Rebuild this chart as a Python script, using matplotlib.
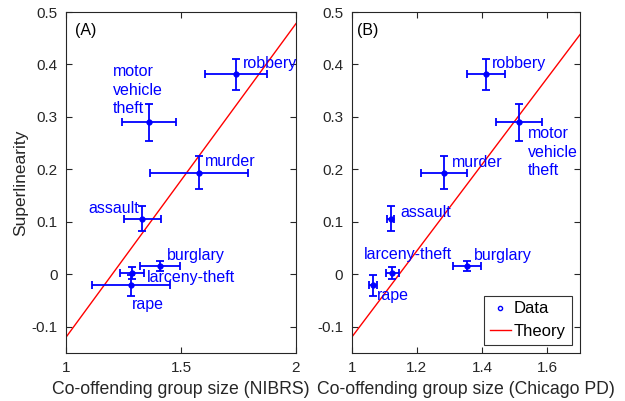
import matplotlib.pyplot as plt
from matplotlib.lines import Line2D
import numpy as np

plt.rcParams['font.family'] = ['Liberation Sans', 'DejaVu Sans']

crimes = ['robbery', 'motor vehicle theft', 'murder', 'assault',
          'burglary', 'larceny-theft', 'rape']

# superlinearity (same for both panels)
beta = [0.381, 0.290, 0.194, 0.106, 0.016, 0.002, -0.021]
beta_err = [0.030, 0.035, 0.032, 0.024, 0.010, 0.011, 0.020]

# group size, NIBRS
nibrs_x = [1.739, 1.361, 1.580, 1.332, 1.409, 1.287, 1.284]
nibrs_xerr = [0.135, 0.116, 0.213, 0.080, 0.088, 0.053, 0.170]

# group size, Chicago PD
chi_x = [1.412, 1.513, 1.284, 1.119, 1.353, 1.125, 1.066]
chi_xerr = [0.058, 0.070, 0.071, 0.011, 0.043, 0.019, 0.013]

# theory line endpoints
nibrs_theory_x = [1.0, 2.0]
nibrs_theory_y = [-0.120, 0.478]
chi_theory_x = [1.0, 1.7]
chi_theory_y = [-0.120, 0.457]

# label positions (x, y, text)
nibrs_labels = [
    (1.768, 0.401, 'robbery'),
    (1.203, 0.351, 'motor\nvehicle\ntheft'),
    (1.604, 0.216, 'murder'),
    (1.097, 0.126, 'assault'),
    (1.438, 0.035, 'burglary'),
    (1.351, -0.006, 'larceny-theft'),
    (1.288, -0.058, 'rape'),
]
chi_labels = [
    (1.431, 0.401, 'robbery'),
    (1.539, 0.233, 'motor\nvehicle\ntheft'),
    (1.306, 0.214, 'murder'),
    (1.149, 0.117, 'assault'),
    (1.374, 0.035, 'burglary'),
    (1.038, 0.037, 'larceny-theft'),
    (1.078, -0.041, 'rape'),
]

BLUE = '#0000ff'
GRAY = '#262626'

fig = plt.figure(figsize=(6.25, 4.01), dpi=100)
ax1 = fig.add_axes([0.1056, 0.1197, 0.368, 0.8503])
ax2 = fig.add_axes([0.5627, 0.1197, 0.3653, 0.8503])


def style(ax, xlim, xticks, xticklabels):
    ax.set_xlim(*xlim)
    ax.set_ylim(-0.15, 0.5)
    ax.set_xticks(xticks)
    ax.set_xticklabels(xticklabels)
    ax.set_yticks([-0.1, 0, 0.1, 0.2, 0.3, 0.4, 0.5])
    ax.set_yticklabels(['-0.1', '0', '0.1', '0.2', '0.3', '0.4', '0.5'])
    ax.tick_params(direction='in', top=True, right=True, length=4,
                   width=0.8, labelsize=11, colors=GRAY, labelcolor=GRAY, pad=6)
    for s in ax.spines.values():
        s.set_color(GRAY)
        s.set_linewidth(0.8)


for ax, xs, xerrs, tx, ty, labels in [
        (ax1, nibrs_x, nibrs_xerr, nibrs_theory_x, nibrs_theory_y, nibrs_labels),
        (ax2, chi_x, chi_xerr, chi_theory_x, chi_theory_y, chi_labels)]:
    ax.plot(tx, ty, color='red', lw=1.0, zorder=2)
    ax.errorbar(xs, beta, xerr=xerrs, yerr=beta_err, fmt='o', color=BLUE,
                ms=3.5, mfc=BLUE, mec=BLUE, elinewidth=1.3, capsize=3.2,
                capthick=1.3, zorder=3)
    for lx, ly, txt in labels:
        ax.text(lx, ly, txt, color=BLUE, fontsize=11.5, ha='left', va='center',
                linespacing=1.3)

style(ax1, (1, 2), [1, 1.5, 2], ['1', '1.5', '2'])
style(ax2, (1, 1.7), [1, 1.2, 1.4, 1.6], ['1', '1.2', '1.4', '1.6'])

ax1.text(1.04, 0.464, '(A)', fontsize=11.5, color='black', va='center')
ax2.text(1.017, 0.464, '(B)', fontsize=11.5, color='black', va='center')

ax1.set_ylabel('Superlinearity', fontsize=12.5, color=GRAY, labelpad=2.5)
ax1.set_xlabel('Co-offending group size (NIBRS)', fontsize=12.7, color=GRAY, labelpad=4)
ax2.set_xlabel('Co-offending group size (Chicago PD)', fontsize=12.7, color=GRAY, labelpad=4)

handles = [
    Line2D([], [], ls='none', marker='o', ms=3, mfc='none', mec=BLUE, mew=1),
    Line2D([], [], color='red', lw=1.0),
]
leg = ax2.legend(handles, ['Data', 'Theory'], loc='lower right', fontsize=12,
                 frameon=True, fancybox=False, edgecolor='black',
                 handlelength=1.3, handletextpad=0.15, borderpad=0.35,
                 labelspacing=0.45, borderaxespad=0.5)
leg.get_frame().set_linewidth(0.8)

fig.savefig('out.png', dpi=100)
